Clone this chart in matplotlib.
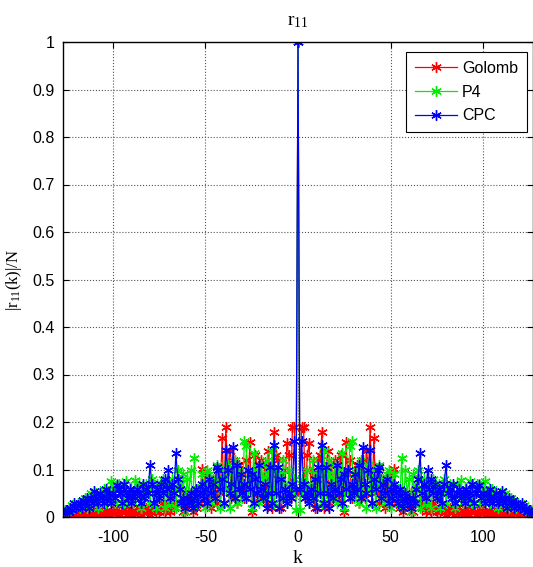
import numpy as np
import matplotlib
matplotlib.use("Agg")
import matplotlib.pyplot as plt

# |r(k)|/N for k = 1..127 (the curve is symmetric in k)
golomb_pos = [
    0.05, 0.19, 0.19, 0.04, 0.13, 0.155, 0.06, 0.10, 0.02, 0.08,
    0.12, 0.13, 0.18, 0.02, 0.09, 0.14, 0.03, 0.11, 0.06, 0.12,
    0.04, 0.10, 0.13, 0.05, 0.01, 0.158, 0.07, 0.12, 0.04, 0.09,
    0.06, 0.11, 0.03, 0.08, 0.12, 0.04, 0.14, 0.09, 0.19, 0.03,
    0.167, 0.05, 0.10, 0.03, 0.08, 0.06, 0.02, 0.07, 0.04, 0.09,
    0.05, 0.102, 0.03, 0.06, 0.02, 0.05, 0.01, 0.04, 0.03, 0.02,
    0.05, 0.01, 0.03, 0.06, 0.08, 0.03, 0.02, 0.04, 0.01, 0.03,
    0.02, 0.01, 0.03, 0.02, 0.01, 0.02, 0.01, 0.015, 0.02, 0.005,
    0.012, 0.02, 0.008, 0.015, 0.004, 0.018, 0.01, 0.006, 0.014, 0.02,
    0.007, 0.012, 0.004, 0.016, 0.01, 0.005, 0.013, 0.008, 0.018, 0.006,
    0.011, 0.004, 0.015, 0.009, 0.005, 0.012, 0.007, 0.014, 0.004, 0.01,
    0.006, 0.012, 0.005, 0.009, 0.004, 0.011, 0.006, 0.008, 0.003, 0.009,
    0.005, 0.007, 0.003, 0.006, 0.004, 0.005, 0.003,
]
p4_pos = [
    0.015, 0.08, 0.06, 0.05, 0.10, 0.03, 0.07, 0.12, 0.04, 0.09,
    0.06, 0.10, 0.03, 0.138, 0.05, 0.09, 0.12, 0.04, 0.08, 0.11,
    0.03, 0.10, 0.07, 0.134, 0.02, 0.09, 0.06, 0.15, 0.16, 0.04,
    0.07, 0.10, 0.03, 0.12, 0.05, 0.09, 0.02, 0.11, 0.06, 0.08,
    0.10, 0.02, 0.07, 0.11, 0.04, 0.08, 0.03, 0.09, 0.10, 0.02,
    0.07, 0.09, 0.04, 0.06, 0.03, 0.124, 0.02, 0.10, 0.05, 0.08,
    0.01, 0.09, 0.04, 0.07, 0.10, 0.02, 0.06, 0.08, 0.03, 0.07,
    0.05, 0.02, 0.08, 0.06, 0.04, 0.07, 0.02, 0.05, 0.08, 0.03,
    0.06, 0.07, 0.04, 0.05, 0.02, 0.07, 0.05, 0.078, 0.03, 0.06,
    0.05, 0.04, 0.075, 0.03, 0.06, 0.05, 0.07, 0.07, 0.03, 0.06,
    0.075, 0.04, 0.05, 0.03, 0.06, 0.04, 0.05, 0.02, 0.05, 0.04,
    0.03, 0.05, 0.04, 0.02, 0.04, 0.035, 0.03, 0.02, 0.03, 0.025,
    0.02, 0.025, 0.015, 0.02, 0.01, 0.015, 0.008,
]
cpc_pos = [
    0.06, 0.16, 0.07, 0.04, 0.05, 0.03, 0.06, 0.04, 0.08, 0.02,
    0.106, 0.05, 0.152, 0.03, 0.106, 0.05, 0.02, 0.07, 0.04, 0.06,
    0.11, 0.05, 0.08, 0.03, 0.09, 0.06, 0.10, 0.04, 0.07, 0.05,
    0.09, 0.06, 0.11, 0.04, 0.148, 0.07, 0.05, 0.10, 0.141, 0.03,
    0.08, 0.06, 0.10, 0.106, 0.04, 0.07, 0.05, 0.08, 0.03, 0.06,
    0.04, 0.07, 0.05, 0.03, 0.06, 0.04, 0.02, 0.05, 0.03, 0.04,
    0.02, 0.04, 0.03, 0.06, 0.08, 0.134, 0.05, 0.07, 0.04, 0.098,
    0.06, 0.08, 0.05, 0.07, 0.04, 0.06, 0.05, 0.03, 0.07, 0.11,
    0.05, 0.06, 0.04, 0.07, 0.03, 0.05, 0.06, 0.04, 0.05, 0.03,
    0.06, 0.04, 0.05, 0.07, 0.03, 0.05, 0.06, 0.068, 0.04, 0.05,
    0.03, 0.05, 0.04, 0.06, 0.03, 0.04, 0.05, 0.03, 0.04, 0.054,
    0.03, 0.04, 0.02, 0.04, 0.03, 0.035, 0.02, 0.03, 0.025, 0.02,
    0.029, 0.015, 0.02, 0.01, 0.015, 0.01, 0.008,
]
peak = 1.0
series_names = ["Golomb", "P4", "CPC"]
series_colors = ["#ff0000", "#00ee00", "#0000ff"]
xticks = [-100, -50, 0, 50, 100]
yticks = [0, 0.1, 0.2, 0.3, 0.4, 0.5, 0.6, 0.7, 0.8, 0.9, 1]
ytick_labels = ["0", "0.1", "0.2", "0.3", "0.4", "0.5", "0.6", "0.7", "0.8", "0.9", "1"]


def full(pos):
    pos = list(pos)
    return np.array(pos[::-1] + [peak] + pos)


N = len(golomb_pos)
k = np.arange(-N, N + 1)

fig = plt.figure(figsize=(5.33, 5.67), dpi=100)
ax = fig.add_axes([63 / 533, 1 - 517 / 567, 470 / 533, 475 / 567])

for pos, name, col in zip([golomb_pos, p4_pos, cpc_pos], series_names, series_colors):
    ax.plot(k, full(pos), color=col, lw=0.9, marker=(6, 2, 0), ms=7.5, mew=1.0,
            label=name, clip_on=True)

ax.set_xlim(-127, 127)
ax.set_ylim(0, 1)
ax.set_xticks(xticks)
ax.set_xticklabels([str(t) for t in xticks], family="Liberation Sans", fontsize=11.5)
ax.set_yticks(yticks)
ax.set_yticklabels(ytick_labels, family="Liberation Sans", fontsize=11.5)
ax.tick_params(direction="in", top=True, right=True, length=4, width=0.8)
ax.tick_params(axis="x", pad=9)
ax.tick_params(axis="y", pad=6)
ax.grid(True, linestyle=":", color="#555555", linewidth=0.8)
for s in ax.spines.values():
    s.set_linewidth(1.0)

ax.set_title(r"$\mathregular{r_{11}}$", family="Liberation Serif", fontsize=14, pad=12)
ax.set_xlabel("k", family="Liberation Serif", fontsize=14, labelpad=4)
ax.set_ylabel(r"$\mathregular{|r_{11}(k)|/N}$", family="Liberation Serif", fontsize=12, labelpad=6)

leg = ax.legend(loc="upper right", bbox_to_anchor=(0.987, 0.979),
                prop={"family": "Liberation Sans", "size": 11.5},
                fancybox=False, edgecolor="black", framealpha=1,
                handlelength=2.6, handletextpad=0.35, borderpad=0.55,
                labelspacing=0.55, borderaxespad=0.0)
leg.get_frame().set_linewidth(0.8)

fig.savefig("out.png", dpi=100)
